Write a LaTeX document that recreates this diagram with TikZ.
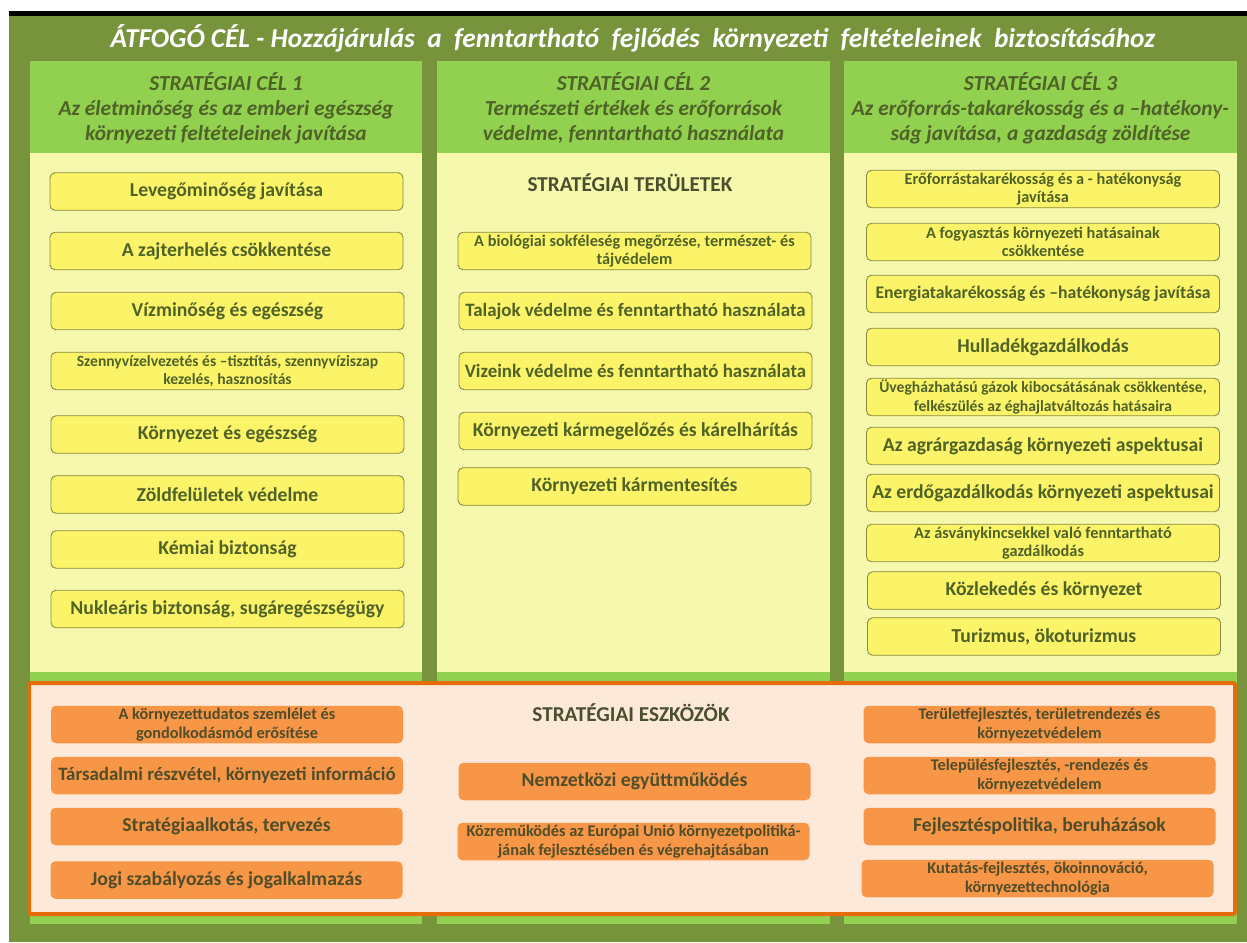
\documentclass[tikz,border=0pt]{standalone}
\usepackage{fontspec}
\setmainfont{Carlito}
\definecolor{olive}{HTML}{77933C}
\definecolor{lgreen}{HTML}{92D050}
\definecolor{pale}{HTML}{F6F8AE}
\definecolor{boxyellow}{HTML}{FCF468}
\definecolor{boxline}{HTML}{8A8A45}
\definecolor{peach}{HTML}{FDE9D9}
\definecolor{boxorange}{HTML}{F79646}
\definecolor{oborder}{HTML}{E46C0A}
\definecolor{txtgreen}{HTML}{4F6228}
\definecolor{txtorange}{HTML}{504D2A}
\definecolor{txthead}{HTML}{4A4F2E}
\tikzset{
  ybox/.style={draw=boxline, line width=0.9pt, fill=boxyellow, rounded corners=5pt,
    minimum width=353pt, minimum height=37.5pt, inner sep=0pt, align=center,
    text=txtgreen, font=\bfseries\fontsize{19.7}{22}\selectfont},
  obox/.style={fill=boxorange, rounded corners=5pt,
    minimum width=352pt, minimum height=37.5pt, inner sep=0pt, align=center,
    text=txtorange, font=\bfseries\fontsize{19.7}{22}\selectfont},
  small/.style={font=\bfseries\fontsize{16.3}{18.5}\selectfont},
  smaller/.style={font=\bfseries\fontsize{15.6}{18.5}\selectfont},
  mid/.style={font=\bfseries\fontsize{18.9}{22}\selectfont},
  hdr/.style={align=center, text=txtgreen, inner sep=0pt,
    font=\bfseries\itshape\fontsize{21.4}{25}\selectfont},
  sect/.style={text=txthead, inner sep=0pt, font=\bfseries\fontsize{21.2}{24}\selectfont},
  ttl/.style={text=white, inner sep=0pt, font=\bfseries\itshape\fontsize{27.3}{30}\selectfont}
}
\begin{document}
\begin{tikzpicture}[x=1pt,y=-1pt]
\useasboundingbox (0,0) rectangle (1247,942);
% background
\fill[olive] (9,16) rectangle (1247,942);
\fill[black] (9,11) rectangle (1247,16);
% columns
\foreach \a/\b in {30/422, 437/830, 844/1237}{
  \fill[lgreen] (\a,61) rectangle (\b,924);
  \fill[pale] (\a,153) rectangle (\b,672);
}
% title
\node[ttl] (title) at (633,38) {ÁTFOGÓ CÉL - Hozzájárulás\ \ a\ \ fenntartható\ \ fejlődés\ \ környezeti\ \ feltételeinek\ \ biztosításához};
% headers
\node[hdr] (h1) at (226,108) {STRATÉGIAI CÉL 1\\Az életminőség és az emberi egészség\\környezeti feltételeinek javítása};
\node[hdr] (h2) at (633.5,108) {STRATÉGIAI CÉL 2\\Természeti értékek és erőforrások\\védelme, fenntartható használata};
\node[hdr] (h3) at (1040.5,108) {STRATÉGIAI CÉL 3\\Az erőforrás-takarékosság és a –hatékony-\\ság javítása, a gazdaság zöldítése};
% column 1
\node[ybox] (c1a) at (226.5,191.5) {Levegőminőség javítása};
\node[ybox] (c1b) at (226.5,251) {A zajterhelés csökkentése};
\node[ybox] (c1c) at (227.5,311) {Vízminőség és egészség};
\node[ybox,smaller] (c1d) at (227.5,371) {Szennyvízelvezetés és –tisztítás, szennyvíziszap\\kezelés, hasznosítás};
\node[ybox] (c1e) at (227.5,434.5) {Környezet és egészség};
\node[ybox] (c1f) at (227.5,494.5) {Zöldfelületek védelme};
\node[ybox] (c1g) at (227.5,549.5) {Kémiai biztonság};
\node[ybox] (c1h) at (227.5,609) {Nukleáris biztonság, sugáregészségügy};
% column 2
\node[sect] (s2) at (630,183) {STRATÉGIAI TERÜLETEK};
\node[ybox,small] (c2a) at (634.5,251) {A biológiai sokféleség megőrzése, természet- és\\tájvédelem};
\node[ybox,mid] (c2b) at (635.5,311) {Talajok védelme és fenntartható használata};
\node[ybox,mid] (c2c) at (635.5,371) {Vizeink védelme és fenntartható használata};
\node[ybox] (c2d) at (635.5,431) {Környezeti kármegelőzés és kárelhárítás};
\node[ybox] (c2e) at (634.5,486.5) {Környezeti kármentesítés};
% column 3
\node[ybox,small] (c3a) at (1043,189) {Erőforrástakarékosság és a - hatékonyság\\javítása};
\node[ybox,small] (c3b) at (1043,242) {A fogyasztás környezeti hatásainak\\csökkentése};
\node[ybox,font=\bfseries\fontsize{17.7}{20}\selectfont] (c3c) at (1043,294) {Energiatakarékosság és –hatékonyság javítása};
\node[ybox] (c3d) at (1043,347) {Hulladékgazdálkodás};
\node[ybox,smaller] (c3e) at (1043,397) {Üvegházhatású gázok kibocsátásának csökkentése,\\felkészülés az éghajlatváltozás hatásaira};
\node[ybox] (c3f) at (1043,446) {Az agrárgazdaság környezeti aspektusai};
\node[ybox] (c3g) at (1043,493) {Az erdőgazdálkodás környezeti aspektusai};
\node[ybox,small] (c3h) at (1043,543) {Az ásványkincsekkel való fenntartható\\gazdálkodás};
\node[ybox] (c3i) at (1044,590.5) {Közlekedés és környezet};
\node[ybox] (c3j) at (1044,636.5) {Turizmus, ökoturizmus};
% tools box
\draw[oborder, fill=peach, line width=4pt, rounded corners=2pt] (29,683) rectangle (1235,914);
\node[sect] (s3) at (631,713) {STRATÉGIAI ESZKÖZÖK};
\node[obox,small] (o1a) at (227,724.5) {A környezettudatos szemlélet és\\gondolkodásmód erősítése};
\node[obox,mid] (o1b) at (227,775.5) {Társadalmi részvétel, környezeti információ};
\node[obox] (o1c) at (226.5,826.5) {Stratégiaalkotás, tervezés};
\node[obox] (o1d) at (226.5,880) {Jogi szabályozás és jogalkalmazás};
\node[obox] (o2a) at (634.5,781.5) {Nemzetközi együttműködés};
\node[obox,small] (o2b) at (633.5,841.5) {Közreműködés az Európai Unió környezetpolitiká-\\jának fejlesztésében és végrehajtásában};
\node[obox,small] (o3a) at (1039.5,724.5) {Területfejlesztés, területrendezés és\\környezetvédelem};
\node[obox,small] (o3b) at (1039.5,775.5) {Településfejlesztés, -rendezés és\\környezetvédelem};
\node[obox] (o3c) at (1039.5,826.5) {Fejlesztéspolitika, beruházások};
\node[obox,small] (o3d) at (1037.5,878.5) {Kutatás-fejlesztés, ökoinnováció,\\környezettechnológia};
\end{tikzpicture}
\end{document}
